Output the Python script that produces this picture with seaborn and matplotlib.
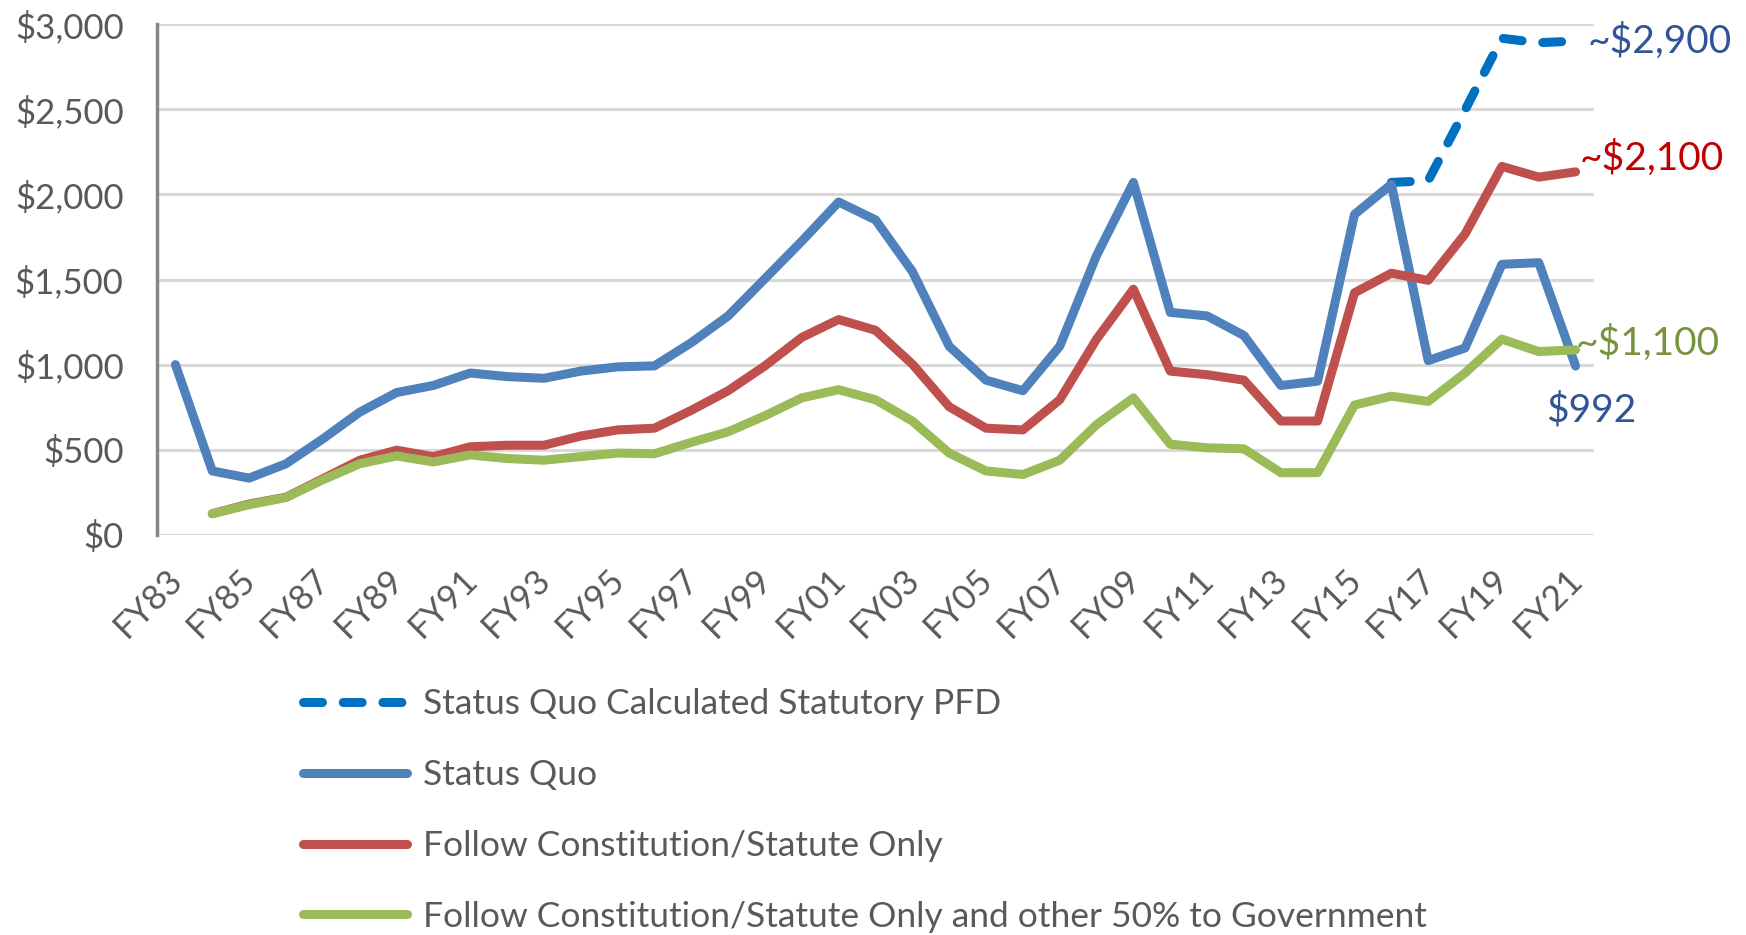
import numpy as np
import pandas as pd
import matplotlib
matplotlib.use('Agg')
import matplotlib.pyplot as plt
import matplotlib.ticker as mticker
import matplotlib.transforms as mtransforms
import seaborn as sns

# fiscal years FY83 .. FY21
years = [f'FY{y % 100:02d}' for y in range(1983, 2022)]

status_quo = [1000, 376, 334, 418, 564, 721, 836, 878, 951, 930, 920, 962,
              987, 993, 1129, 1286, 1505, 1725, 1955, 1850, 1547, 1108, 909, 847,
              1108, 1641, 2070, 1307, 1286, 1171, 878, 903, 1882, 2059, 1024, 1098,
              1589, 1599, 992]

status_quo_calc = [np.nan] * 33 + [2070, 2080, 2495, 2916, 2890, 2900]

constitution_only = [np.nan, 125, 182, 222, 330, 439, 498, 460, 518, 527, 527, 581,
                     617, 627, 732, 847, 993, 1160, 1265, 1202, 1003, 753, 627, 617,
                     794, 1150, 1443, 962, 941, 909, 669, 669, 1422, 1537, 1495, 1767,
                     2164, 2101, 2132]

constitution_gov = [np.nan, 125, 178, 220, 324, 418, 464, 429, 470, 449, 439, 460,
                    481, 477, 544, 606, 700, 805, 853, 794, 669, 481, 376, 355,
                    439, 648, 805, 533, 512, 506, 366, 366, 763, 815, 784, 951,
                    1150, 1077, 1087]

labels = ['Status Quo Calculated Statutory PFD', 'Status Quo',
          'Follow Constitution/Statute Only',
          'Follow Constitution/Statute Only and other 50% to Government']
colors = ['#0070C0', '#4F81BD', '#C0504D', '#9BBB59']

df = pd.DataFrame({
    'pos': np.arange(len(years)),
    'FY': years,
    labels[0]: status_quo_calc,
    labels[1]: status_quo,
    labels[2]: constitution_only,
    labels[3]: constitution_gov,
})

sns.set_theme(style='white')
plt.rcParams['font.family'] = ['Lato', 'DejaVu Sans']
text_grey = '#595959'

fig = plt.figure(figsize=(17.46, 9.35), dpi=100)
ax = fig.add_axes([157 / 1746, 1 - 535 / 935, (1594 - 157) / 1746, 511 / 935])

lw = 6.5
for i, (lab, col) in enumerate(zip(labels, colors)):
    kws = dict(solid_capstyle='round', solid_joinstyle='round')
    if i == 0:
        kws = dict(linestyle=(0, (2.1, 2.3)), dash_capstyle='round', dash_joinstyle='round')
    sns.lineplot(data=df, x='pos', y=lab, ax=ax, color=col, lw=lw,
                 label=lab, clip_on=False, **kws)

ax.set_xlim(-0.5, len(years) - 0.5)
ax.set_ylim(0, 3000)
ax.set_yticks(np.arange(0, 3001, 500))
ax.yaxis.set_major_formatter(mticker.FuncFormatter(lambda v, p: f'${v:,.0f}'))
ax.set_xticks(df['pos'][::2])
ax.set_xticklabels(years[::2], rotation=45, ha='center', va='center',
                   rotation_mode='anchor')
ax.set_xlabel('')
ax.set_ylabel('')

ax.tick_params(axis='y', labelsize=25, colors=text_grey, length=0, pad=24)
ax.tick_params(axis='x', labelsize=25, colors=text_grey, length=0, pad=49)
shift = mtransforms.ScaledTranslation(-27 / 100, 0, fig.dpi_scale_trans)
for t in ax.get_xticklabels():
    t.set_transform(t.get_transform() + shift)

ax.grid(axis='y', color='#D9D9D9', lw=2.2)
ax.grid(axis='x', visible=False)
ax.set_axisbelow(True)
for s in ['top', 'right', 'bottom']:
    ax.spines[s].set_visible(False)
ax.spines['left'].set_color('#868686')
ax.spines['left'].set_linewidth(2.5)

# end-of-series labels
last = len(years) - 1
ax.annotate('~$2,900', xy=(last, status_quo_calc[-1]), xytext=(9, 0),
            textcoords='offset points', va='center', ha='left',
            fontsize=28, color='#2F5597', annotation_clip=False)
ax.annotate('~$2,100', xy=(last, constitution_only[-1]), xytext=(3, 10),
            textcoords='offset points', va='center', ha='left',
            fontsize=28, color='#C00000', annotation_clip=False)
ax.annotate('~$1,100', xy=(last, constitution_gov[-1]), xytext=(0, 5),
            textcoords='offset points', va='center', ha='left',
            fontsize=28, color='#77933C', annotation_clip=False)
ax.annotate('$992', xy=(last, status_quo[-1]), xytext=(-21, -32),
            textcoords='offset points', va='center', ha='left',
            fontsize=28, color='#2F5597', annotation_clip=False)

handles, labs = ax.get_legend_handles_labels()
ax.get_legend().remove()
leg = fig.legend(handles, labs, loc='upper left',
                 bbox_to_anchor=(303 / 1746, 1 - 688 / 935),
                 frameon=False, fontsize=25.5, handlelength=2.95,
                 handletextpad=0.45, labelspacing=1.1,
                 borderpad=0, borderaxespad=0)
for t in leg.get_texts():
    t.set_color(text_grey)

fig.savefig('out.png', dpi=100)
plt.close(fig)
